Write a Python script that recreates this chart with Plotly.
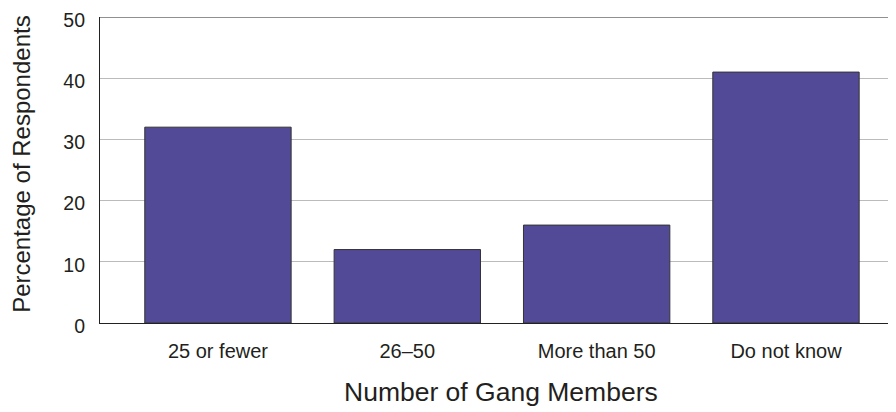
import plotly.graph_objects as go

categories = ["25 or fewer", "26–50", "More than 50", "Do not know"]
values = [32, 12, 16, 41]
y_ticks = [0, 10, 20, 30, 40, 50]

fig = go.Figure()
fig.add_trace(go.Bar(
    x=list(range(len(categories))), y=values, width=0.773,
    marker=dict(color="#524A96", line=dict(color="#333333", width=1)),
))
fig.add_shape(type="line", xref="paper", yref="y", x0=0, x1=1, y0=50, y1=50,
              line=dict(color="#222222", width=1.2))
fig.add_annotation(text="Percentage of Respondents", xref="paper", yref="paper",
                   x=-0.098, y=0.52, xanchor="center", yanchor="middle",
                   textangle=-90, showarrow=False, font=dict(size=24))
fig.add_annotation(text="Number of Gang Members", xref="paper", yref="paper",
                   x=0.504, y=-0.225, xanchor="center", yanchor="middle",
                   showarrow=False, font=dict(size=26.5))
fig.update_layout(
    width=888, height=404,
    margin=dict(l=92, r=0, t=9, b=89),
    plot_bgcolor="white", paper_bgcolor="white",
    showlegend=False,
    font=dict(family="Liberation Sans, Arial, sans-serif", color="#231f20"),
    xaxis=dict(
        tickmode="array", tickvals=list(range(len(categories))), ticktext=categories,
        range=[-0.623, 3.581], showline=True, linecolor="#222222", linewidth=1.2,
        ticks="", tickfont=dict(size=20), showgrid=False, ticklabelstandoff=10,
        automargin=False,
    ),
    yaxis=dict(
        range=[0, 50], tickvals=y_ticks, showline=True, linecolor="#222222", linewidth=1.2,
        ticks="", tickfont=dict(size=19.5), gridcolor="#bbbbbb", gridwidth=1,
        zeroline=False, ticklabelstandoff=10, automargin=False,
        ticklabeloverflow="allow", ticklabelshift=3,
    ),
)
fig.write_html("out.html")
